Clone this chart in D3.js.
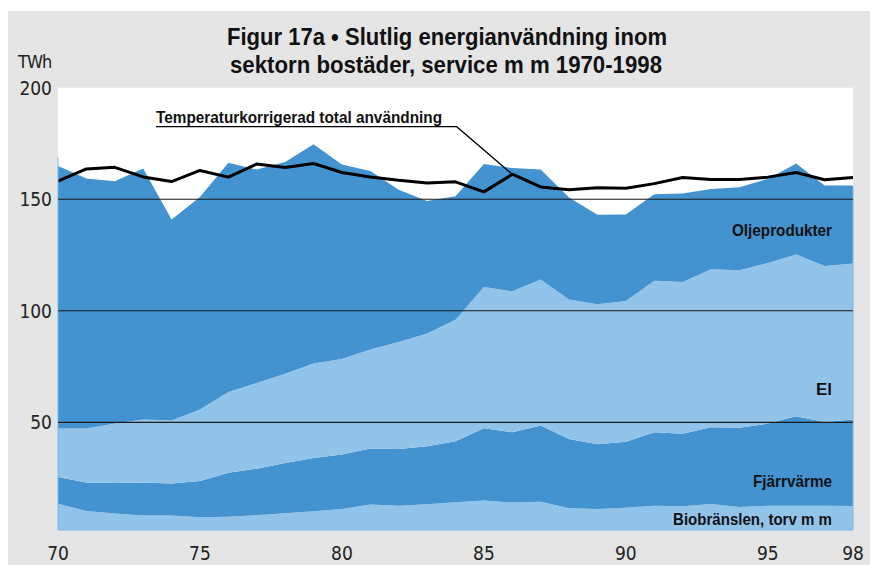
<!DOCTYPE html>
<html>
<head>
<meta charset="utf-8">
<script src="https://cdn.jsdelivr.net/npm/d3@7"></script>
<style>
  body { margin: 0; background: #fff; }
  svg { display: block; }
  .tick-label { font-family: "Liberation Sans Narrow", "DejaVu Sans Condensed", sans-serif; font-size: 19px; fill: #222; }
  .series-label { font-family: "Liberation Sans Narrow", sans-serif; font-weight: bold; font-size: 17px; fill: #111; }
</style>
</head>
<body>
<svg id="chart" width="870" height="565"></svg>
<script>
const years = [70, 71, 72, 73, 74, 75, 76, 77, 78, 79, 80, 81, 82, 83, 84, 85, 86, 87, 88, 89, 90, 91, 92, 93, 94, 95, 96, 97, 98];

// TWh per carrier, stacked bottom to top
const biobransle = [13.5, 10.2, 9.1, 8.2, 8.2, 7.4, 7.7, 8.3, 9.2, 10.1, 11.1, 13.1, 12.6, 13.2, 14.2, 14.9, 14.0, 14.4, 11.4, 11.1, 11.7, 12.6, 12.3, 13.4, 12.0, 12.6, 12.6, 12.6, 12.5];
const fjarrvarme = [12.0, 12.8, 13.7, 14.8, 14.4, 16.3, 19.7, 20.9, 22.5, 23.9, 24.4, 25.1, 25.4, 26.0, 27.3, 32.4, 31.5, 34.1, 31.1, 29.0, 29.6, 32.9, 32.6, 34.4, 35.5, 36.8, 40.1, 37.5, 38.8];
const el = [21.7, 24.2, 26.6, 28.3, 28.2, 32.0, 36.2, 38.4, 40.1, 42.3, 42.9, 44.4, 48.0, 50.6, 54.5, 63.4, 63.2, 65.5, 62.5, 62.8, 63.1, 68.0, 68.0, 70.8, 70.7, 72.0, 72.5, 70.0, 69.9];
const oljeprodukter = [117.7, 112.1, 108.7, 112.5, 90.1, 95.3, 102.7, 95.7, 94.9, 98.4, 87.2, 80.0, 68.3, 59.4, 55.3, 55.1, 55.3, 49.3, 45.8, 40.1, 38.7, 38.7, 39.7, 36.0, 37.2, 37.7, 40.8, 36.0, 34.9];
const tempKorr = [158.1, 163.6, 164.3, 160.0, 157.9, 162.9, 159.9, 165.8, 164.2, 166.0, 162.0, 160.0, 158.5, 157.3, 157.8, 153.3, 161.2, 155.5, 154.2, 155.1, 154.9, 157.0, 159.7, 158.8, 158.8, 159.9, 162.0, 158.7, 159.7];

const xTicks = [70, 75, 80, 85, 90, 95, 98];
const yTicks = [50, 100, 150, 200];
const gridValues = [50, 100, 150];

const DARK = "#4393d0";
const LIGHT = "#92c4ea";

const svg = d3.select("#chart");

// grey panel
svg.append("rect")
  .attr("x", 8).attr("y", 11)
  .attr("width", 862).attr("height", 554)
  .attr("fill", "#e5e5e5");

const plot = { left: 58, right: 853, top: 87.7, bottom: 530 };

const x = d3.scaleLinear().domain([70, 98]).range([plot.left, plot.right]);
const y = d3.scaleLinear().domain([0, 200]).range([533.8, plot.top]);

svg.append("rect")
  .attr("x", plot.left).attr("y", plot.top)
  .attr("width", plot.right - plot.left).attr("height", plot.bottom - plot.top)
  .attr("fill", "#fff");

const defs = svg.append("defs");
defs.append("clipPath").attr("id", "plot-clip")
  .append("rect")
  .attr("x", plot.left).attr("y", plot.top)
  .attr("width", plot.right - plot.left).attr("height", plot.bottom - plot.top);

const rows = years.map((yr, i) => ({
  year: yr,
  bio: biobransle[i],
  fjv: fjarrvarme[i],
  el: el[i],
  olja: oljeprodukter[i]
}));

const keys = ["bio", "fjv", "el", "olja"];
const colors = { bio: LIGHT, fjv: DARK, el: LIGHT, olja: DARK };
const stacked = d3.stack().keys(keys)(rows);

const area = d3.area()
  .x((d) => x(d.data.year))
  .y0((d) => y(d[0]))
  .y1((d) => y(d[1]));

const g = svg.append("g").attr("clip-path", "url(#plot-clip)");

g.selectAll(".layer")
  .data(stacked)
  .enter()
  .append("path")
  .attr("class", "layer")
  .attr("d", area)
  .attr("fill", (d) => colors[d.key]);

// thin edge along bottom/sides of plot
svg.append("path")
  .attr("d", `M${plot.left},${plot.top + 70}V${plot.bottom}H${plot.right}V${plot.top + 100}`)
  .attr("fill", "none")
  .attr("stroke", "#7db6e2")
  .attr("stroke-width", 1);

// gridlines
svg.selectAll(".grid")
  .data(gridValues)
  .enter()
  .append("line")
  .attr("class", "grid")
  .attr("x1", plot.left).attr("x2", plot.right)
  .attr("y1", (d) => y(d)).attr("y2", (d) => y(d))
  .attr("stroke", "#1a1a1a")
  .attr("stroke-width", 1.2);

// temperature corrected total
const line = d3.line()
  .x((d, i) => x(years[i]))
  .y((d) => y(d));

g.append("path")
  .datum(tempKorr)
  .attr("d", line)
  .attr("fill", "none")
  .attr("stroke", "#000")
  .attr("stroke-width", 3)
  .attr("stroke-linejoin", "round");

// y tick labels
svg.selectAll(".ylab")
  .data(yTicks)
  .enter()
  .append("text")
  .attr("class", "tick-label")
  .attr("x", 52)
  .attr("y", (d) => y(d))
  .attr("dy", "0.36em")
  .attr("text-anchor", "end")
  .text((d) => d);

svg.append("text")
  .attr("class", "tick-label")
  .attr("x", 18).attr("y", 68)
  .style("font-size", "18px")
  .style("letter-spacing", "-1px")
  .text("TWh");

// x tick labels
svg.selectAll(".xlab")
  .data(xTicks)
  .enter()
  .append("text")
  .attr("class", "tick-label")
  .attr("x", (d) => x(d))
  .attr("y", 560)
  .attr("text-anchor", "middle")
  .text((d) => d);

// title
const title = svg.append("text")
  .attr("text-anchor", "middle")
  .attr("font-family", "Liberation Sans Narrow, sans-serif")
  .attr("font-weight", "bold")
  .attr("font-size", 24)
  .attr("fill", "#111");
title.append("tspan").attr("x", 447).attr("y", 45)
  .attr("textLength", 440).attr("lengthAdjust", "spacingAndGlyphs")
  .text("Figur 17a \u2022 Slutlig energianvändning inom");
title.append("tspan").attr("x", 446).attr("y", 73)
  .attr("textLength", 432).attr("lengthAdjust", "spacingAndGlyphs")
  .text("sektorn bostäder, service m m 1970-1998");

// series labels
const labelX = 832;
const seriesLabels = [
  { text: "Oljeprodukter", y: 236, w: 100 },
  { text: "El", y: 395, w: 0 },
  { text: "Fjärrvärme", y: 487, w: 79 },
  { text: "Biobränslen, torv m m", y: 525, w: 159 }
];
const sl = svg.selectAll(".series-label")
  .data(seriesLabels)
  .enter()
  .append("text")
  .attr("class", "series-label")
  .attr("x", labelX)
  .attr("y", (d) => d.y)
  .attr("text-anchor", "end")
  .text((d) => d.text);
sl.filter((d) => d.w > 0)
  .attr("textLength", (d) => d.w)
  .attr("lengthAdjust", "spacingAndGlyphs");

// annotation with leader line to 1986 point
const annIdx = years.indexOf(86);
svg.append("text")
  .attr("class", "series-label")
  .attr("x", 156).attr("y", 122.5)
  .attr("textLength", 286).attr("lengthAdjust", "spacingAndGlyphs")
  .text("Temperaturkorrigerad total användning");

svg.append("path")
  .attr("d", d3.line()([[156, 126.7], [456.7, 126.7], [x(86), y(tempKorr[annIdx])]]))
  .attr("fill", "none")
  .attr("stroke", "#000")
  .attr("stroke-width", 1.3);
</script>
</body>
</html>
